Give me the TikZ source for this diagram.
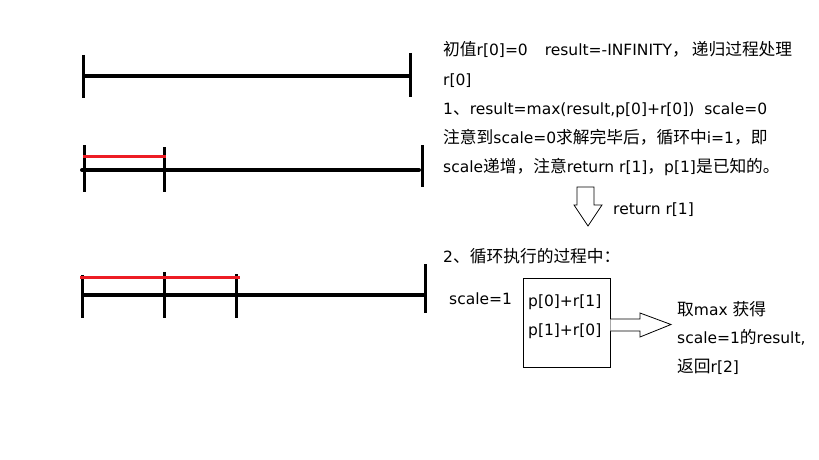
\documentclass[tikz,border=0pt]{standalone}
\usepackage{fontspec}
\setmainfont{DejaVu Sans}
\newfontfamily\cjkfont{Noto Sans CJK SC}[Scale=1.08]
\newcommand\zh[1]{{\cjkfont #1}}
\definecolor{paintred}{RGB}{237,28,36}
\begin{document}
\begin{tikzpicture}[x=1pt,y=-1pt,
  txt/.style={anchor=base west, inner sep=0pt, font=\fontsize{15.5}{18}\selectfont},
  bar/.style={line width=4pt, black},
  tick/.style={line width=3pt, black},
  redbar/.style={line width=3pt, paintred},
  blockarrow/.style={draw=black, line width=0.8pt, fill=white}]
\useasboundingbox (0,0) rectangle (819,460);
% ruler 1
\draw[bar] (83,76) -- (410,76);
\draw[tick] (83,55) -- (83,98);
\draw[tick] (410,53) -- (410,97);
% ruler 2
\draw[bar, line cap=round] (82,170) -- (419,170);
\draw[tick] (84,145) -- (84,192);
\draw[tick] (164,147) -- (164,192);
\draw[tick] (422,145) -- (422,187);
\draw[redbar] (83,156) -- (166,156);
% ruler 3
\draw[bar] (82,295) -- (425,295);
\draw[tick] (82,275) -- (82,318);
\draw[tick] (164,272) -- (164,318);
\draw[tick] (236,274) -- (236,318);
\draw[tick] (425,264) -- (425,313);
\draw[redbar] (80,277) -- (240,277);
% texts
\node[txt] (t1) at (443,56) {\zh{初值}r[0]=0\hspace{17pt}result=-INFINITY\zh{，}\hspace{3pt}\zh{递归过程处理}};
\node[txt] (t2) at (443,85) {r[0]};
\node[txt] (t3) at (443,114) {1\zh{、}result=max(result,p[0]+r[0])\hspace{10pt}scale=0};
\node[txt] (t4) at (443,143) {\zh{注意到}scale=0\zh{求解完毕后，循环中}i=1\zh{，即}};
\node[txt] (t5) at (443,172) {scale\zh{递增，注意}return r[1]\zh{，}p[1]\zh{是已知的。}};
\node[txt] (ret) at (613,214) {return r[1]};
\node[txt] (t6) at (443,262) {2\zh{、循环执行的过程中：}};
\node[txt] (sc) at (449,304) {scale=1};
\node[draw, line width=0.8pt, minimum width=87pt, minimum height=89pt, inner sep=0pt] (box) at (566.5,322.5) {};
\node[txt] (p1) at (528,306) {p[0]+r[1]};
\node[txt] (p2) at (528,335) {p[1]+r[0]};
\node[txt] (r1) at (677,315) {\zh{取}max \zh{获得}};
\node[txt] (r2) at (677,343) {scale=1\zh{的}result,};
\node[txt] (r3) at (677,372) {\zh{返回}r[2]};
% block arrows
\draw[blockarrow] (577,187) -- (594,187) -- (594,205) -- (602,205) -- (588,226) -- (574,205) -- (577,205) -- cycle;
\draw[blockarrow] (box.east |- 0,319) -- (640,319) -- (640,313) -- (671,324.5) -- (640,337) -- (640,331) -- (box.east |- 0,331);
\end{tikzpicture}
\end{document}
